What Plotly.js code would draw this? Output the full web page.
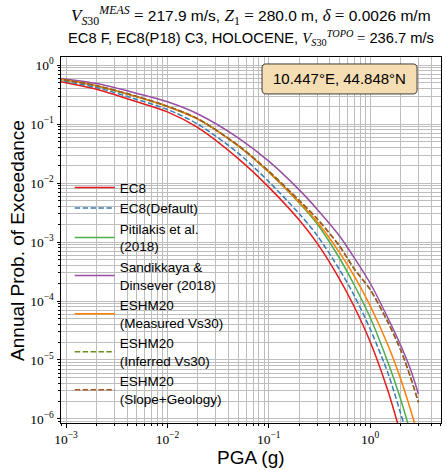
<!DOCTYPE html>
<html><head><meta charset="utf-8">
<script src="https://cdn.plot.ly/plotly-3.0.1.min.js"></script>
<style>html,body{margin:0;padding:0;background:#fff}#chart{width:446px;height:470px}</style>
</head><body><div id="chart"></div>
<script>
// PGA levels (g)
const pga = [0.0008, 0.001, 0.002, 0.005, 0.01, 0.02, 0.05, 0.1, 0.2, 0.3, 0.5, 0.7, 1.0, 1.5, 2.0, 2.5, 3.0];
// Annual probability of exceedance per model
const ec8        = [0.546, 0.503, 0.391, 0.240, 0.162, 0.0873, 0.0260, 0.00855, 0.00236, 9.6e-4, 2.36e-4, 7.9e-5, 2.06e-5, 3.0e-6, 5.6e-7, 1.4e-7, 4.3e-8];
const ec8Default = [0.576, 0.533, 0.419, 0.263, 0.178, 0.100, 0.0323, 0.0106, 0.00302, 0.0013, 3.4e-4, 1.22e-4, 3.38e-5, 6.0e-6, 1.25e-6, 3.35e-7, 1.04e-7];
const pitilakis  = [0.590, 0.558, 0.446, 0.291, 0.1995, 0.1215, 0.0427, 0.01536, 0.00462, 0.00205, 5.31e-4, 1.85e-4, 5.30e-5, 9.1e-6, 2.17e-6, 5.9e-7, 1.89e-7];
const sandikkaya = [0.614, 0.581, 0.488, 0.333, 0.240, 0.149, 0.0586, 0.0236, 0.00769, 0.00362, 0.00127, 5.38e-4, 2.02e-4, 5.15e-5, 1.79e-5, 7.0e-6, 2.65e-6];
const eshmMeas   = [0.595, 0.561, 0.448, 0.292, 0.200, 0.122, 0.0429, 0.01555, 0.00474, 0.00221, 6.6e-4, 2.62e-4, 8.4e-5, 1.79e-5, 4.8e-6, 1.46e-6, 5.0e-7];
const eshmInf    = [0.598, 0.563, 0.450, 0.295, 0.202, 0.1235, 0.0435, 0.0160, 0.0051, 0.0025, 8.6e-4, 3.5e-4, 1.58e-4, 4.4e-5, 1.5e-5, 5.2e-6, 1.92e-6];
const eshmSlope  = [0.598, 0.563, 0.450, 0.295, 0.202, 0.1235, 0.0435, 0.01596, 0.00505, 0.00248, 8.5e-4, 3.45e-4, 1.57e-4, 4.34e-5, 1.48e-5, 5.15e-6, 1.9e-6];

const seriesNames = ["EC8", "EC8(Default)", "Pitilakis et al.<br>(2018)", "Sandikkaya &<br>Dinsever (2018)",
                     "ESHM20<br>(Measured Vs30)", "ESHM20<br>(Inferred Vs30)", "ESHM20<br>(Slope+Geology)"];
const seriesData = [ec8, ec8Default, pitilakis, sandikkaya, eshmMeas, eshmInf, eshmSlope];
const colors = ["#e41a1c", "#377eb8", "#4daf4a", "#984ea3", "#ff7f00", "#6b8e23", "#a65628"];
const dashes = ["solid", "5.5px,2.4px", "solid", "solid", "solid", "5.5px,2.4px", "5.5px,2.4px"];

const xTickVals = [0.001, 0.01, 0.1, 1];
const xTickText = ["10<sup>−3</sup>", "10<sup>−2</sup>", "10<sup>−1</sup>", "10<sup>0</sup>"];
const yTickVals = [1e-6, 1e-5, 1e-4, 1e-3, 1e-2, 1e-1, 1];
const yTickText = ["10<sup>−6</sup>", "10<sup>−5</sup>", "10<sup>−4</sup>", "10<sup>−3</sup>", "10<sup>−2</sup>", "10<sup>−1</sup>", "10<sup>0</sup>"];

const xTitle = "PGA (g)";
const yTitle = "Annual Prob. of Exceedance";
const locText = "10.447°E, 44.848°N";
const SER = "font-family:'Liberation Serif',serif;font-size:17px";
const titleLine1 =
  `<span style="${SER}"><i>V</i><sub><i>S</i>30</sub><sup><i>MEAS</i></sup> =</span> 217.9 m/s, ` +
  `<span style="${SER}"><i>Z</i><sub>1</sub> =</span> 280.0 m, <span style="${SER}"><i>δ</i> =</span> 0.0026 m/m`;
const titleLine2 =
  `EC8 F, EC8(P18) C3, HOLOCENE, <span style="font-family:'Liberation Serif',serif"><i>V</i><sub><i>S</i>30</sub><sup><i>TOPO</i></sup> =</span> 236.7 m/s`;

function minorVals(lo, hi) {
  const out = [];
  for (let e = lo; e <= hi; e++) for (let m = 2; m <= 9; m++) out.push(m * Math.pow(10, e));
  return out;
}

// rounded box (paper coordinates) for the location label
function roundedRect(x0, y0, x1, y1, rx, ry) {
  return `M${x0 + rx},${y1} L${x1 - rx},${y1} Q${x1},${y1} ${x1},${y1 - ry} L${x1},${y0 + ry} Q${x1},${y0} ${x1 - rx},${y0} ` +
         `L${x0 + rx},${y0} Q${x0},${y0} ${x0},${y0 + ry} L${x0},${y1 - ry} Q${x0},${y1} ${x0 + rx},${y1} Z`;
}

const traces = seriesData.map((ys, i) => ({
  x: pga, y: ys, type: "scatter", mode: "lines", name: seriesNames[i],
  line: {color: colors[i], width: 1.5, dash: dashes[i], shape: "spline", smoothing: 0.8}
}));

const gridColor = "#bdbdbd";
const baseAxis = {
  type: "log", showline: true, mirror: true, linecolor: "#000", linewidth: 1,
  ticks: "outside", ticklen: 3.5, tickwidth: 1, tickcolor: "#000",
  showgrid: true, gridcolor: gridColor, gridwidth: 1, zeroline: false,
  tickmode: "array",
  tickfont: {family: "Liberation Serif, serif", size: 13.5, color: "#000"}
};

const layout = {
  width: 446, height: 470,
  margin: {l: 61, r: 5, t: 57, b: 47},
  paper_bgcolor: "#fff", plot_bgcolor: "#fff",
  font: {family: "Liberation Sans, Arial, sans-serif", color: "#000"},
  xaxis: Object.assign({}, baseAxis, {
    range: [-3.05, 0.70], tickvals: xTickVals, ticktext: xTickText,
    minor: {tickmode: "array", tickvals: minorVals(-4, 0), ticks: "outside", ticklen: 2, tickcolor: "#000",
            showgrid: true, gridcolor: gridColor, gridwidth: 1}
  }),
  yaxis: Object.assign({}, baseAxis, {
    range: [-6.07, 0.14], tickvals: yTickVals, ticktext: yTickText,
    minor: {tickmode: "array", tickvals: minorVals(-7, 0), ticks: "outside", ticklen: 2, tickcolor: "#000",
            showgrid: true, gridcolor: gridColor, gridwidth: 1}
  }),
  legend: {x: 0.023, y: 0.685, xanchor: "left", yanchor: "top", bgcolor: "rgba(0,0,0,0)",
           borderwidth: 0, itemwidth: 40, font: {size: 13.5, family: "Liberation Sans, sans-serif", color: "#000"},
           tracegroupgap: 0},
  shapes: [{
    type: "path", xref: "paper", yref: "paper", layer: "above",
    path: roundedRect(0.529, 0.899, 0.937, 0.981, 0.011, 0.011),
    fillcolor: "#f5deb3", line: {color: "rgba(0,0,0,0.75)", width: 1}
  }],
  annotations: [
    {text: titleLine1, xref: "paper", yref: "paper", x: 0.5, y: 1.113, xanchor: "center", yanchor: "middle",
     showarrow: false, font: {family: "Liberation Sans, sans-serif", size: 15.5, color: "#000"}},
    {text: titleLine2, xref: "paper", yref: "paper", x: 0.5, y: 1.051, xanchor: "center", yanchor: "middle",
     showarrow: false, font: {family: "Liberation Sans, sans-serif", size: 14.7, color: "#000"}},
    {text: xTitle, xref: "paper", yref: "paper", x: 0.5, y: -0.094, xanchor: "center", yanchor: "middle",
     showarrow: false, font: {family: "Liberation Sans, sans-serif", size: 19, color: "#000"}},
    {text: yTitle, xref: "paper", yref: "paper", x: -0.116, y: 0.5, xanchor: "center", yanchor: "middle",
     textangle: -90, showarrow: false, font: {family: "Liberation Sans, sans-serif", size: 19, color: "#000"}},
    {text: locText, xref: "paper", yref: "paper", x: 0.733, y: 0.94, xanchor: "center", yanchor: "middle",
     showarrow: false, font: {family: "Liberation Sans, sans-serif", size: 15, color: "#000"}}
  ],
  showlegend: true
};

Plotly.newPlot("chart", traces, layout, {displayModeBar: false, staticPlot: true});
</script></body></html>
